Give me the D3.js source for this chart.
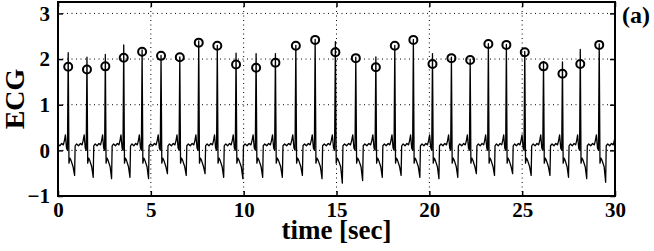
<!DOCTYPE html>
<html>
<head>
<meta charset="utf-8">
<script src="https://cdn.jsdelivr.net/npm/d3@7"></script>
<style>
  body { margin: 0; background: #fff; }
  svg text { font-family: "Liberation Serif", "Times New Roman", serif; font-weight: bold; fill: #000; }
</style>
</head>
<body>
<div id="ecg-chart"></div>
<script>
'use strict';

// R-peak times [sec] and the marked (circle) values
const rPeakTimes = [0.55, 1.56, 2.55, 3.54, 4.53, 5.55, 6.56, 7.58, 8.58, 9.59,
                    10.67, 11.71, 12.81, 13.85, 14.94, 16.04, 17.12, 18.14, 19.14, 20.17,
                    21.19, 22.20, 23.18, 24.15, 25.14, 26.15, 27.17, 28.13, 29.15];
const circleValues = [1.83, 1.77, 1.84, 2.03, 2.16, 2.07, 2.04, 2.36, 2.29, 1.88,
                      1.81, 1.92, 2.29, 2.42, 2.15, 2.02, 1.82, 2.29, 2.42, 1.89,
                      2.02, 1.98, 2.33, 2.31, 2.15, 1.84, 1.68, 1.89, 2.31];
// top of each R spike in the trace
const spikeValues = [2.14, 2.04, 2.10, 2.31, 2.20, 2.08, 2.05, 2.40, 2.30, 2.13,
                     2.12, 2.12, 2.30, 2.43, 2.38, 2.04, 2.05, 2.30, 2.43, 2.12,
                     2.04, 2.00, 2.34, 2.32, 2.17, 1.95, 1.94, 2.21, 2.33];
// deepest point after each beat
const troughValues = [-0.55, -0.59, -0.62, -0.59, -0.62, -0.51, -0.55, -0.51, -0.59, -0.62,
                      -0.59, -0.59, -0.55, -0.62, -0.72, -0.66, -0.59, -0.55, -0.59, -0.62,
                      -0.59, -0.51, -0.55, -0.51, -0.55, -0.55, -0.59, -0.62, -0.70];
// one beat: phase within R-R interval and level
// (index 0 is the R spike, index 5 the trough; both taken per beat from above)
const beatPhase = [0, 0.04, 0.09, 0.15, 0.26, 0.34, 0.37, 0.45, 0.55, 0.65, 0.74, 0.80, 0.85, 0.91, 0.96];
const beatLevel = [0, -0.28, -0.17, -0.22, -0.36, 0, 0.10, 0.14, 0.10, 0.15, 0.12, 0.22, 0.34, 0.05, 0.0];
const peakIdx = 0;
const troughIdx = 5;

const xTicks = [0, 5, 10, 15, 20, 25, 30];
const yTicks = [-1, 0, 1, 2, 3];

class EcgVis {
  constructor (svgWidth, svgHeight) {
    this.svgWidth = svgWidth;
    this.svgHeight = svgHeight;
    this.padding = {'top': 2, 'right': 39, 'bottom': 55, 'left': 58};
    this.tickLen = 5;
    this.circleRadius = 4;
    this.initSvg();
  }

  initSvg() {
    this.svg = d3.select('#ecg-chart')
                 .append('svg')
                   .attr('width', this.svgWidth)
                   .attr('height', this.svgHeight);
    this.width = this.svgWidth - this.padding.left - this.padding.right;
    this.height = this.svgHeight - this.padding.top - this.padding.bottom;
    this.x = d3.scaleLinear().domain([0, 30]).range([0, this.width]);
    this.y = d3.scaleLinear().domain([-1, 3.25]).range([this.height, 0]);
    this.container = this.svg.append('g')
                             .attr('transform',
                                   `translate(${this.padding.left}, ${this.padding.top})`);
    this.container.append('clipPath')
                    .attr('id', 'plot-clip')
                  .append('rect')
                    .attr('width', this.width)
                    .attr('height', this.height);
  }

  buildTrace() {
    // extend one virtual beat at each end so the trace fills the window
    const n = rPeakTimes.length;
    const times = [2 * rPeakTimes[0] - rPeakTimes[1]].concat(rPeakTimes,
                  [2 * rPeakTimes[n - 1] - rPeakTimes[n - 2]]);
    const peaks = [spikeValues[0]].concat(spikeValues, [spikeValues[n - 1]]);
    const troughs = [troughValues[0]].concat(troughValues, [troughValues[n - 1]]);
    const points = [];
    for (let b = 0; b < times.length - 1; b++) {
      const rr = times[b + 1] - times[b];
      for (let k = 0; k < beatPhase.length; k++) {
        let v = beatLevel[k];
        if (k == peakIdx) {v = peaks[b]};
        if (k == troughIdx) {v = troughs[b]};
        points.push({'t': times[b] + beatPhase[k] * rr, 'v': v});
      }
    }
    return points;
  }

  drawGrid() {
    const grid = this.container.append('g').attr('class', 'grid');
    grid.selectAll('line.gx')
        .data(xTicks.slice(1, -1))
        .enter()
        .append('line')
          .attr('x1', d => this.x(d)).attr('x2', d => this.x(d))
          .attr('y1', 0).attr('y2', this.height);
    grid.selectAll('line.gy')
        .data(yTicks.slice(1))
        .enter()
        .append('line')
          .attr('x1', 0).attr('x2', this.width)
          .attr('y1', d => this.y(d)).attr('y2', d => this.y(d));
    grid.selectAll('line')
        .attr('stroke', '#000')
        .attr('stroke-width', 1)
        .attr('stroke-dasharray', '1,3.5');
  }

  drawTrace() {
    const line = d3.line()
                   .x(d => this.x(d.t))
                   .y(d => this.y(d.v));
    this.container.append('path')
                    .datum(this.buildTrace())
                    .attr('clip-path', 'url(#plot-clip)')
                    .attr('fill', 'none')
                    .attr('stroke', '#000')
                    .attr('stroke-width', 1.3)
                    .attr('stroke-linejoin', 'round')
                    .attr('d', line);
    this.container.selectAll('circle')
                  .data(rPeakTimes.map((t, i) => ({'t': t, 'v': circleValues[i]})))
                  .enter()
                  .append('circle')
                    .attr('cx', d => this.x(d.t))
                    .attr('cy', d => this.y(d.v))
                    .attr('r', this.circleRadius)
                    .attr('fill', 'none')
                    .attr('stroke', '#000')
                    .attr('stroke-width', 2);
  }

  drawAxes() {
    const fmt = d3.format('d');
    const bottom = this.container.append('g')
                       .attr('transform', `translate(0, ${this.height})`)
                       .call(d3.axisBottom(this.x).tickValues(xTicks).tickFormat(fmt)
                               .tickSize(-this.tickLen).tickPadding(6));
    const top = this.container.append('g')
                    .call(d3.axisTop(this.x).tickValues(xTicks).tickFormat('')
                            .tickSize(-this.tickLen));
    const left = this.container.append('g')
                     .call(d3.axisLeft(this.y).tickValues(yTicks).tickFormat(fmt)
                             .tickSize(-this.tickLen).tickPadding(8));
    const right = this.container.append('g')
                      .attr('transform', `translate(${this.width}, 0)`)
                      .call(d3.axisRight(this.y).tickValues(yTicks).tickFormat('')
                              .tickSize(-this.tickLen));
    [bottom, top, left, right].forEach(g => {
      g.select('.domain').remove();
      g.selectAll('line').attr('stroke', '#000').attr('stroke-width', 1.5);
      g.selectAll('text').attr('font-size', 21).attr('font-family', null);
    });
    bottom.selectAll('text').attr('dy', '0.71em');
    this.container.append('rect')
                    .attr('width', this.width)
                    .attr('height', this.height)
                    .attr('fill', 'none')
                    .attr('stroke', '#000')
                    .attr('stroke-width', 2);
  }

  drawLabels() {
    this.container.append('text')
                    .attr('x', this.width / 2)
                    .attr('y', this.height + 43)
                    .attr('text-anchor', 'middle')
                    .attr('font-size', 27)
                    .text('time [sec]');
    this.container.append('text')
                    .attr('transform', `translate(-34, ${this.height / 2}) rotate(-90)`)
                    .attr('text-anchor', 'middle')
                    .attr('font-size', 28)
                    .text('ECG');
    this.container.append('text')
                    .attr('x', this.width + 7)
                    .attr('y', 21)
                    .attr('font-size', 24)
                    .text('(a)');
  }
}

const vis = new EcgVis(654, 251);
vis.drawGrid();
vis.drawTrace();
vis.drawAxes();
vis.drawLabels();
</script>
</body>
</html>
